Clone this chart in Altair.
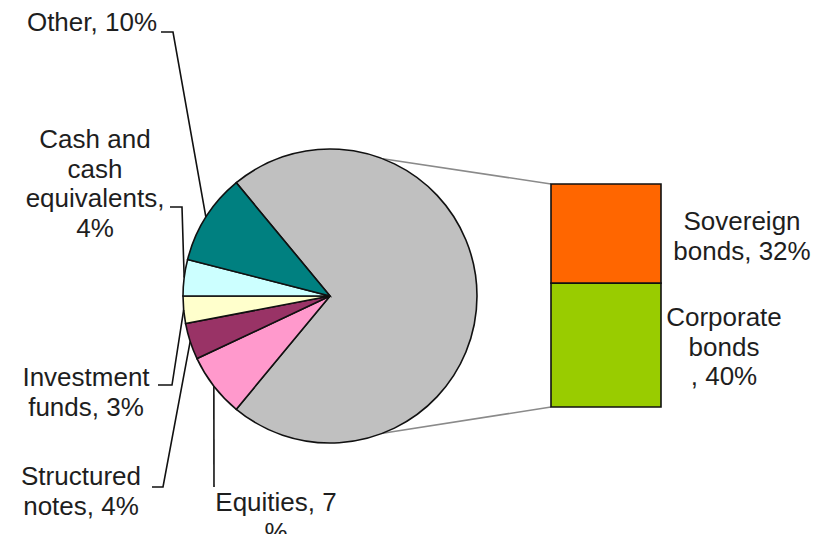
import math
import altair as alt
import pandas as pd

# ---------------- data ----------------
pie_names = ["Bonds", "Equities", "Structured notes", "Investment funds",
             "Cash and cash equivalents", "Other"]
pie_values = [72, 7, 4, 3, 4, 10]
pie_colors = ["#C0C0C0", "#FF99CC", "#993366", "#FFFFCC", "#CCFFFF", "#008080"]

bar_names = ["Corporate bonds", "Sovereign bonds"]
bar_values = [40, 32]
bar_colors = ["#99CC00", "#FF6600"]

labels = {
    "Other": ["Other, 10%"],
    "Cash and cash equivalents": ["Cash and", "cash", "equivalents,", "4%"],
    "Investment funds": ["Investment", "funds, 3%"],
    "Structured notes": ["Structured", "notes, 4%"],
    "Equities": ["Equities, 7", "%"],
    "Sovereign bonds": ["Sovereign", "bonds, 32%"],
    "Corporate bonds": ["Corporate", "bonds", ", 40%"],
}

# ---------------- layout (page pixels) ----------------
W, H = 805, 526
OFF = 8
CX, CY, R = 330, 296, 147
BAR_X0, BAR_X1, BAR_TOP, BAR_BOT = 551, 661, 184, 407
FONT = "Liberation Sans"
FS = 26
LH = 29.5
TXT = "#1e1e1e"

# label placement: (x, y of first line centre, align)
label_pos = {
    "Other": (157, 23, "right"),
    "Cash and cash equivalents": (95, 140, "center"),
    "Investment funds": (86, 378, "center"),
    "Structured notes": (81, 477, "center"),
    "Equities": (276, 503, "center"),
    "Sovereign bonds": (742, 222, "center"),
    "Corporate bonds": (724, 318, "center"),
}
# leader elbow points (start at the label, turn, then go to the slice)
leader_start = {
    "Other": [(161, 32), (173, 32)],
    "Cash and cash equivalents": [(170, 207), (182, 207)],
    "Investment funds": [(158, 385), (172, 385)],
    "Structured notes": [(152, 487), (163, 487)],
    "Equities": [(214, 487)],
}
connector_angles_deg = [21, 159]

# ---------------- derived ----------------
total = sum(pie_values)
start = 2 * math.pi * (0.25 - pie_values[0] / total / 2)

pie_df = pd.DataFrame({
    "name": pie_names,
    "value": pie_values,
    "ord": list(range(len(pie_names))),
})

bar_df = pd.DataFrame({
    "name": bar_names,
    "value": bar_values,
    "ord": list(range(len(bar_names))),
})

xs = alt.Scale(domain=[OFF, OFF + W], range=[0, W], nice=False, zero=False)
ys = alt.Scale(domain=[OFF, OFF + H], range=[0, H], nice=False, zero=False)

# leader lines from the mid-angle of each small slice
rows = []
cum = 0.0
for n, v in zip(pie_names, pie_values):
    mid = start + 2 * math.pi * (cum + v / 2) / total
    cum += v
    if n in leader_start:
        pts = list(leader_start[n]) + [(CX + R * math.sin(mid), CY - R * math.cos(mid))]
        for i, (px, py) in enumerate(pts):
            rows.append({"seg": n, "i": i, "x": px, "y": py})
leader_df = pd.DataFrame(rows)

crow = []
bar_ends = [(BAR_X0, BAR_TOP), (BAR_X0, BAR_BOT)]
for k, (ang, end) in enumerate(zip(connector_angles_deg, bar_ends)):
    a = math.radians(ang)
    crow.append({"seg": k, "i": 0, "x": CX + R * math.sin(a), "y": CY - R * math.cos(a)})
    crow.append({"seg": k, "i": 1, "x": end[0], "y": end[1]})
conn_df = pd.DataFrame(crow)

# ---------------- layers ----------------
pie = alt.Chart(pie_df).mark_arc(
    x=CX - OFF, y=CY - OFF, radius=R, stroke="#111", strokeWidth=1.6
).encode(
    theta=alt.Theta("value:Q", stack=True,
                    scale=alt.Scale(domain=[0, total], range=[start, start + 2 * math.pi])),
    order=alt.Order("ord:Q", sort="ascending"),
    color=alt.Color("name:N", scale=alt.Scale(domain=pie_names, range=pie_colors), legend=None),
)

bar = alt.Chart(bar_df).transform_stack(
    stack="value", as_=["v0", "v1"], groupby=[], sort=[alt.SortField("ord", order="ascending")]
).mark_rect(stroke="#111", strokeWidth=1.6).encode(
    x=alt.value(BAR_X0 - OFF),
    x2=alt.value(BAR_X1 - OFF),
    y=alt.Y("v0:Q", axis=None,
            scale=alt.Scale(domain=[0, sum(bar_values)], range=[BAR_BOT - OFF, BAR_TOP - OFF],
                            nice=False, zero=False)),
    y2="v1:Q",
    color=alt.Color("name:N", scale=alt.Scale(domain=bar_names, range=bar_colors), legend=None),
)

connectors = alt.Chart(conn_df).mark_line(color="#8a8a8a", strokeWidth=1.6).encode(
    x=alt.X("x:Q", scale=xs, axis=None),
    y=alt.Y("y:Q", scale=ys, axis=None),
    detail="seg:N",
    order="i:Q",
)

leaders = alt.Chart(leader_df).mark_line(color="#111", strokeWidth=1.6).encode(
    x=alt.X("x:Q", scale=xs, axis=None),
    y=alt.Y("y:Q", scale=ys, axis=None),
    detail="seg:N",
    order="i:Q",
)

texts = []
for key, lines in labels.items():
    lx, ly, al = label_pos[key]
    texts.append(
        alt.Chart(pd.DataFrame({"t": [lines]})).mark_text(
            x=lx - OFF, y=ly - OFF, align=al, baseline="middle",
            font=FONT, fontSize=FS, lineHeight=LH, color=TXT,
        ).encode(text="t:N")
    )

chart = alt.layer(connectors, pie, bar, leaders, *texts).resolve_scale(
    x="independent", y="independent", color="independent", theta="independent"
).properties(
    width=W, height=H, padding=0,
    autosize=alt.AutoSizeParams(type="none"),
    background="white",
).configure_view(stroke=None)

chart.save("out.html", embed_options={"renderer": "svg", "actions": False})
